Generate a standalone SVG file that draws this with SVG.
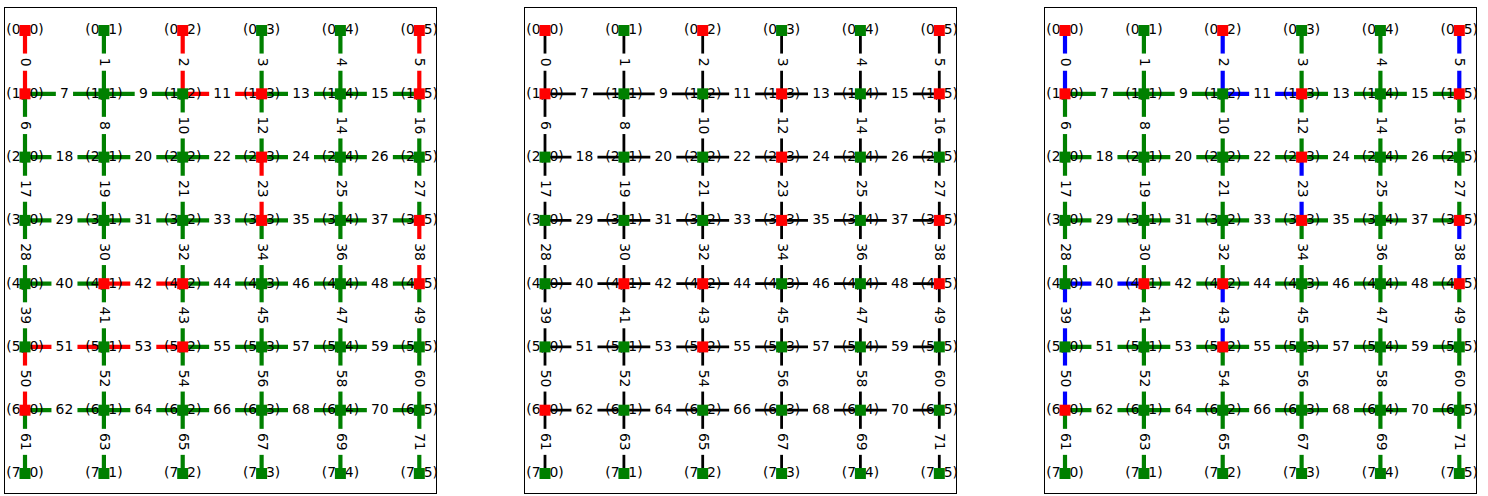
<svg xmlns="http://www.w3.org/2000/svg" width="1488" height="496" viewBox="0 0 1488 496">
<style>
text{font-family:"DejaVu Sans","Liberation Sans",sans-serif;font-size:13.9px;text-anchor:middle;fill:#000}
.cg path{stroke:#008000;stroke-width:4.2;fill:none}
.ck path{stroke:#000;stroke-width:2.8;fill:none}
path.r{stroke:#f00}
path.b{stroke:#00f}
.el rect{fill:#fff}
.nr{fill:#f00}
.ng{fill:#008000}
.frame{fill:none;stroke:#000;stroke-width:1}
</style>
<rect width="1488" height="496" fill="#fff"/>

<!-- PANEL 1 -->
<g id="panel1">
<rect class="frame" x="4.5" y="7.5" width="432" height="486"/>
<g id="p1-edges">
<g class="cg">
<path class="r" d="M25 30.5V93.8"/><path d="M103.9 30.5V93.8"/><path class="r" d="M182.7 30.5V93.8"/><path d="M261.6 30.5V93.8"/><path d="M340.4 30.5V93.8"/><path class="r" d="M419.3 30.5V93.8"/>
<path d="M25 93.8V157.1"/><path d="M25 93.8H103.9"/><path d="M103.9 93.8V157.1"/><path d="M103.9 93.8H182.7"/><path d="M182.7 93.8V157.1"/><path class="r" d="M182.7 93.8H261.6"/><path d="M261.6 93.8V157.1"/><path d="M261.6 93.8H340.4"/><path d="M340.4 93.8V157.1"/><path d="M340.4 93.8H419.3"/><path d="M419.3 93.8V157.1"/>
<path d="M25 157.1V220.4"/><path d="M25 157.1H103.9"/><path d="M103.9 157.1V220.4"/><path d="M103.9 157.1H182.7"/><path d="M182.7 157.1V220.4"/><path d="M182.7 157.1H261.6"/><path class="r" d="M261.6 157.1V220.4"/><path d="M261.6 157.1H340.4"/><path d="M340.4 157.1V220.4"/><path d="M340.4 157.1H419.3"/><path d="M419.3 157.1V220.4"/>
<path d="M25 220.4V283.7"/><path d="M25 220.4H103.9"/><path d="M103.9 220.4V283.7"/><path d="M103.9 220.4H182.7"/><path d="M182.7 220.4V283.7"/><path d="M182.7 220.4H261.6"/><path d="M261.6 220.4V283.7"/><path d="M261.6 220.4H340.4"/><path d="M340.4 220.4V283.7"/><path d="M340.4 220.4H419.3"/><path class="r" d="M419.3 220.4V283.7"/>
<path d="M25 283.7V346.9"/><path d="M25 283.7H103.9"/><path d="M103.9 283.7V346.9"/><path class="r" d="M103.9 283.7H182.7"/><path d="M182.7 283.7V346.9"/><path d="M182.7 283.7H261.6"/><path d="M261.6 283.7V346.9"/><path d="M261.6 283.7H340.4"/><path d="M340.4 283.7V346.9"/><path d="M340.4 283.7H419.3"/><path d="M419.3 283.7V346.9"/>
<path class="r" d="M25 346.9V410.2"/><path class="r" d="M25 346.9H103.9"/><path d="M103.9 346.9V410.2"/><path class="r" d="M103.9 346.9H182.7"/><path d="M182.7 346.9V410.2"/><path d="M182.7 346.9H261.6"/><path d="M261.6 346.9V410.2"/><path d="M261.6 346.9H340.4"/><path d="M340.4 346.9V410.2"/><path d="M340.4 346.9H419.3"/><path d="M419.3 346.9V410.2"/>
<path d="M25 410.2V473.5"/><path d="M25 410.2H103.9"/><path d="M103.9 410.2V473.5"/><path d="M103.9 410.2H182.7"/><path d="M182.7 410.2V473.5"/><path d="M182.7 410.2H261.6"/><path d="M261.6 410.2V473.5"/><path d="M261.6 410.2H340.4"/><path d="M340.4 410.2V473.5"/><path d="M340.4 410.2H419.3"/><path d="M419.3 410.2V473.5"/>
</g>
<g class="el">
<rect x="14.1" y="53.55" width="21.8" height="17.2"/><text transform="translate(25 62.15) rotate(90)" y="3.84">0</text>
<rect x="93" y="53.55" width="21.8" height="17.2"/><text transform="translate(103.9 62.15) rotate(90)" y="3.84">1</text>
<rect x="171.8" y="53.55" width="21.8" height="17.2"/><text transform="translate(182.7 62.15) rotate(90)" y="3.84">2</text>
<rect x="250.7" y="53.55" width="21.8" height="17.2"/><text transform="translate(261.6 62.15) rotate(90)" y="3.84">3</text>
<rect x="329.5" y="53.55" width="21.8" height="17.2"/><text transform="translate(340.4 62.15) rotate(90)" y="3.84">4</text>
<rect x="408.4" y="53.55" width="21.8" height="17.2"/><text transform="translate(419.3 62.15) rotate(90)" y="3.84">5</text>
<rect x="14.1" y="116.85" width="21.8" height="17.2"/><text transform="translate(25 125.45) rotate(90)" y="3.84">6</text>
<rect x="55.85" y="82.9" width="17.2" height="21.8"/><text x="64.45" y="97.6">7</text>
<rect x="93" y="116.85" width="21.8" height="17.2"/><text transform="translate(103.9 125.45) rotate(90)" y="3.84">8</text>
<rect x="134.7" y="82.9" width="17.2" height="21.8"/><text x="143.3" y="97.6">9</text>
<rect x="171.8" y="112.45" width="21.8" height="26"/><text transform="translate(182.7 125.45) rotate(90)" y="3.84">10</text>
<rect x="209.15" y="82.9" width="26" height="21.8"/><text x="222.15" y="97.6">11</text>
<rect x="250.7" y="112.45" width="21.8" height="26"/><text transform="translate(261.6 125.45) rotate(90)" y="3.84">12</text>
<rect x="288" y="82.9" width="26" height="21.8"/><text x="301" y="97.6">13</text>
<rect x="329.5" y="112.45" width="21.8" height="26"/><text transform="translate(340.4 125.45) rotate(90)" y="3.84">14</text>
<rect x="366.85" y="82.9" width="26" height="21.8"/><text x="379.85" y="97.6">15</text>
<rect x="408.4" y="112.45" width="21.8" height="26"/><text transform="translate(419.3 125.45) rotate(90)" y="3.84">16</text>
<rect x="14.1" y="175.75" width="21.8" height="26"/><text transform="translate(25 188.75) rotate(90)" y="3.84">17</text>
<rect x="51.45" y="146.2" width="26" height="21.8"/><text x="64.45" y="160.9">18</text>
<rect x="93" y="175.75" width="21.8" height="26"/><text transform="translate(103.9 188.75) rotate(90)" y="3.84">19</text>
<rect x="130.3" y="146.2" width="26" height="21.8"/><text x="143.3" y="160.9">20</text>
<rect x="171.8" y="175.75" width="21.8" height="26"/><text transform="translate(182.7 188.75) rotate(90)" y="3.84">21</text>
<rect x="209.15" y="146.2" width="26" height="21.8"/><text x="222.15" y="160.9">22</text>
<rect x="250.7" y="175.75" width="21.8" height="26"/><text transform="translate(261.6 188.75) rotate(90)" y="3.84">23</text>
<rect x="288" y="146.2" width="26" height="21.8"/><text x="301" y="160.9">24</text>
<rect x="329.5" y="175.75" width="21.8" height="26"/><text transform="translate(340.4 188.75) rotate(90)" y="3.84">25</text>
<rect x="366.85" y="146.2" width="26" height="21.8"/><text x="379.85" y="160.9">26</text>
<rect x="408.4" y="175.75" width="21.8" height="26"/><text transform="translate(419.3 188.75) rotate(90)" y="3.84">27</text>
<rect x="14.1" y="239.05" width="21.8" height="26"/><text transform="translate(25 252.05) rotate(90)" y="3.84">28</text>
<rect x="51.45" y="209.5" width="26" height="21.8"/><text x="64.45" y="224.2">29</text>
<rect x="93" y="239.05" width="21.8" height="26"/><text transform="translate(103.9 252.05) rotate(90)" y="3.84">30</text>
<rect x="130.3" y="209.5" width="26" height="21.8"/><text x="143.3" y="224.2">31</text>
<rect x="171.8" y="239.05" width="21.8" height="26"/><text transform="translate(182.7 252.05) rotate(90)" y="3.84">32</text>
<rect x="209.15" y="209.5" width="26" height="21.8"/><text x="222.15" y="224.2">33</text>
<rect x="250.7" y="239.05" width="21.8" height="26"/><text transform="translate(261.6 252.05) rotate(90)" y="3.84">34</text>
<rect x="288" y="209.5" width="26" height="21.8"/><text x="301" y="224.2">35</text>
<rect x="329.5" y="239.05" width="21.8" height="26"/><text transform="translate(340.4 252.05) rotate(90)" y="3.84">36</text>
<rect x="366.85" y="209.5" width="26" height="21.8"/><text x="379.85" y="224.2">37</text>
<rect x="408.4" y="239.05" width="21.8" height="26"/><text transform="translate(419.3 252.05) rotate(90)" y="3.84">38</text>
<rect x="14.1" y="302.3" width="21.8" height="26"/><text transform="translate(25 315.3) rotate(90)" y="3.84">39</text>
<rect x="51.45" y="272.8" width="26" height="21.8"/><text x="64.45" y="287.5">40</text>
<rect x="93" y="302.3" width="21.8" height="26"/><text transform="translate(103.9 315.3) rotate(90)" y="3.84">41</text>
<rect x="130.3" y="272.8" width="26" height="21.8"/><text x="143.3" y="287.5">42</text>
<rect x="171.8" y="302.3" width="21.8" height="26"/><text transform="translate(182.7 315.3) rotate(90)" y="3.84">43</text>
<rect x="209.15" y="272.8" width="26" height="21.8"/><text x="222.15" y="287.5">44</text>
<rect x="250.7" y="302.3" width="21.8" height="26"/><text transform="translate(261.6 315.3) rotate(90)" y="3.84">45</text>
<rect x="288" y="272.8" width="26" height="21.8"/><text x="301" y="287.5">46</text>
<rect x="329.5" y="302.3" width="21.8" height="26"/><text transform="translate(340.4 315.3) rotate(90)" y="3.84">47</text>
<rect x="366.85" y="272.8" width="26" height="21.8"/><text x="379.85" y="287.5">48</text>
<rect x="408.4" y="302.3" width="21.8" height="26"/><text transform="translate(419.3 315.3) rotate(90)" y="3.84">49</text>
<rect x="14.1" y="365.55" width="21.8" height="26"/><text transform="translate(25 378.55) rotate(90)" y="3.84">50</text>
<rect x="51.45" y="336" width="26" height="21.8"/><text x="64.45" y="350.7">51</text>
<rect x="93" y="365.55" width="21.8" height="26"/><text transform="translate(103.9 378.55) rotate(90)" y="3.84">52</text>
<rect x="130.3" y="336" width="26" height="21.8"/><text x="143.3" y="350.7">53</text>
<rect x="171.8" y="365.55" width="21.8" height="26"/><text transform="translate(182.7 378.55) rotate(90)" y="3.84">54</text>
<rect x="209.15" y="336" width="26" height="21.8"/><text x="222.15" y="350.7">55</text>
<rect x="250.7" y="365.55" width="21.8" height="26"/><text transform="translate(261.6 378.55) rotate(90)" y="3.84">56</text>
<rect x="288" y="336" width="26" height="21.8"/><text x="301" y="350.7">57</text>
<rect x="329.5" y="365.55" width="21.8" height="26"/><text transform="translate(340.4 378.55) rotate(90)" y="3.84">58</text>
<rect x="366.85" y="336" width="26" height="21.8"/><text x="379.85" y="350.7">59</text>
<rect x="408.4" y="365.55" width="21.8" height="26"/><text transform="translate(419.3 378.55) rotate(90)" y="3.84">60</text>
<rect x="14.1" y="428.85" width="21.8" height="26"/><text transform="translate(25 441.85) rotate(90)" y="3.84">61</text>
<rect x="51.45" y="399.3" width="26" height="21.8"/><text x="64.45" y="414">62</text>
<rect x="93" y="428.85" width="21.8" height="26"/><text transform="translate(103.9 441.85) rotate(90)" y="3.84">63</text>
<rect x="130.3" y="399.3" width="26" height="21.8"/><text x="143.3" y="414">64</text>
<rect x="171.8" y="428.85" width="21.8" height="26"/><text transform="translate(182.7 441.85) rotate(90)" y="3.84">65</text>
<rect x="209.15" y="399.3" width="26" height="21.8"/><text x="222.15" y="414">66</text>
<rect x="250.7" y="428.85" width="21.8" height="26"/><text transform="translate(261.6 441.85) rotate(90)" y="3.84">67</text>
<rect x="288" y="399.3" width="26" height="21.8"/><text x="301" y="414">68</text>
<rect x="329.5" y="428.85" width="21.8" height="26"/><text transform="translate(340.4 441.85) rotate(90)" y="3.84">69</text>
<rect x="366.85" y="399.3" width="26" height="21.8"/><text x="379.85" y="414">70</text>
<rect x="408.4" y="428.85" width="21.8" height="26"/><text transform="translate(419.3 441.85) rotate(90)" y="3.84">71</text>
</g>
</g>
<g id="p1-nodes">
<g id="p1-n0-0"><text x="25" y="34.3">(0, 0)</text><rect class="nr" x="19.5" y="25" width="11" height="11"/></g>
<g id="p1-n0-1"><text x="103.9" y="34.3">(0, 1)</text><rect class="ng" x="98.4" y="25" width="11" height="11"/></g>
<g id="p1-n0-2"><text x="182.7" y="34.3">(0, 2)</text><rect class="nr" x="177.2" y="25" width="11" height="11"/></g>
<g id="p1-n0-3"><text x="261.6" y="34.3">(0, 3)</text><rect class="ng" x="256.1" y="25" width="11" height="11"/></g>
<g id="p1-n0-4"><text x="340.4" y="34.3">(0, 4)</text><rect class="ng" x="334.9" y="25" width="11" height="11"/></g>
<g id="p1-n0-5"><text x="419.3" y="34.3">(0, 5)</text><rect class="nr" x="413.8" y="25" width="11" height="11"/></g>
<g id="p1-n1-0"><text x="25" y="97.6">(1, 0)</text><rect class="nr" x="19.5" y="88.3" width="11" height="11"/></g>
<g id="p1-n1-1"><text x="103.9" y="97.6">(1, 1)</text><rect class="ng" x="98.4" y="88.3" width="11" height="11"/></g>
<g id="p1-n1-2"><text x="182.7" y="97.6">(1, 2)</text><rect class="ng" x="177.2" y="88.3" width="11" height="11"/></g>
<g id="p1-n1-3"><text x="261.6" y="97.6">(1, 3)</text><rect class="nr" x="256.1" y="88.3" width="11" height="11"/></g>
<g id="p1-n1-4"><text x="340.4" y="97.6">(1, 4)</text><rect class="ng" x="334.9" y="88.3" width="11" height="11"/></g>
<g id="p1-n1-5"><text x="419.3" y="97.6">(1, 5)</text><rect class="nr" x="413.8" y="88.3" width="11" height="11"/></g>
<g id="p1-n2-0"><text x="25" y="160.9">(2, 0)</text><rect class="ng" x="19.5" y="151.6" width="11" height="11"/></g>
<g id="p1-n2-1"><text x="103.9" y="160.9">(2, 1)</text><rect class="ng" x="98.4" y="151.6" width="11" height="11"/></g>
<g id="p1-n2-2"><text x="182.7" y="160.9">(2, 2)</text><rect class="ng" x="177.2" y="151.6" width="11" height="11"/></g>
<g id="p1-n2-3"><text x="261.6" y="160.9">(2, 3)</text><rect class="nr" x="256.1" y="151.6" width="11" height="11"/></g>
<g id="p1-n2-4"><text x="340.4" y="160.9">(2, 4)</text><rect class="ng" x="334.9" y="151.6" width="11" height="11"/></g>
<g id="p1-n2-5"><text x="419.3" y="160.9">(2, 5)</text><rect class="ng" x="413.8" y="151.6" width="11" height="11"/></g>
<g id="p1-n3-0"><text x="25" y="224.2">(3, 0)</text><rect class="ng" x="19.5" y="214.9" width="11" height="11"/></g>
<g id="p1-n3-1"><text x="103.9" y="224.2">(3, 1)</text><rect class="ng" x="98.4" y="214.9" width="11" height="11"/></g>
<g id="p1-n3-2"><text x="182.7" y="224.2">(3, 2)</text><rect class="ng" x="177.2" y="214.9" width="11" height="11"/></g>
<g id="p1-n3-3"><text x="261.6" y="224.2">(3, 3)</text><rect class="nr" x="256.1" y="214.9" width="11" height="11"/></g>
<g id="p1-n3-4"><text x="340.4" y="224.2">(3, 4)</text><rect class="ng" x="334.9" y="214.9" width="11" height="11"/></g>
<g id="p1-n3-5"><text x="419.3" y="224.2">(3, 5)</text><rect class="nr" x="413.8" y="214.9" width="11" height="11"/></g>
<g id="p1-n4-0"><text x="25" y="287.5">(4, 0)</text><rect class="ng" x="19.5" y="278.2" width="11" height="11"/></g>
<g id="p1-n4-1"><text x="103.9" y="287.5">(4, 1)</text><rect class="nr" x="98.4" y="278.2" width="11" height="11"/></g>
<g id="p1-n4-2"><text x="182.7" y="287.5">(4, 2)</text><rect class="nr" x="177.2" y="278.2" width="11" height="11"/></g>
<g id="p1-n4-3"><text x="261.6" y="287.5">(4, 3)</text><rect class="ng" x="256.1" y="278.2" width="11" height="11"/></g>
<g id="p1-n4-4"><text x="340.4" y="287.5">(4, 4)</text><rect class="ng" x="334.9" y="278.2" width="11" height="11"/></g>
<g id="p1-n4-5"><text x="419.3" y="287.5">(4, 5)</text><rect class="nr" x="413.8" y="278.2" width="11" height="11"/></g>
<g id="p1-n5-0"><text x="25" y="350.7">(5, 0)</text><rect class="ng" x="19.5" y="341.4" width="11" height="11"/></g>
<g id="p1-n5-1"><text x="103.9" y="350.7">(5, 1)</text><rect class="ng" x="98.4" y="341.4" width="11" height="11"/></g>
<g id="p1-n5-2"><text x="182.7" y="350.7">(5, 2)</text><rect class="nr" x="177.2" y="341.4" width="11" height="11"/></g>
<g id="p1-n5-3"><text x="261.6" y="350.7">(5, 3)</text><rect class="ng" x="256.1" y="341.4" width="11" height="11"/></g>
<g id="p1-n5-4"><text x="340.4" y="350.7">(5, 4)</text><rect class="ng" x="334.9" y="341.4" width="11" height="11"/></g>
<g id="p1-n5-5"><text x="419.3" y="350.7">(5, 5)</text><rect class="ng" x="413.8" y="341.4" width="11" height="11"/></g>
<g id="p1-n6-0"><text x="25" y="414">(6, 0)</text><rect class="nr" x="19.5" y="404.7" width="11" height="11"/></g>
<g id="p1-n6-1"><text x="103.9" y="414">(6, 1)</text><rect class="ng" x="98.4" y="404.7" width="11" height="11"/></g>
<g id="p1-n6-2"><text x="182.7" y="414">(6, 2)</text><rect class="ng" x="177.2" y="404.7" width="11" height="11"/></g>
<g id="p1-n6-3"><text x="261.6" y="414">(6, 3)</text><rect class="ng" x="256.1" y="404.7" width="11" height="11"/></g>
<g id="p1-n6-4"><text x="340.4" y="414">(6, 4)</text><rect class="ng" x="334.9" y="404.7" width="11" height="11"/></g>
<g id="p1-n6-5"><text x="419.3" y="414">(6, 5)</text><rect class="ng" x="413.8" y="404.7" width="11" height="11"/></g>
<g id="p1-n7-0"><text x="25" y="477.3">(7, 0)</text><rect class="ng" x="19.5" y="468" width="11" height="11"/></g>
<g id="p1-n7-1"><text x="103.9" y="477.3">(7, 1)</text><rect class="ng" x="98.4" y="468" width="11" height="11"/></g>
<g id="p1-n7-2"><text x="182.7" y="477.3">(7, 2)</text><rect class="ng" x="177.2" y="468" width="11" height="11"/></g>
<g id="p1-n7-3"><text x="261.6" y="477.3">(7, 3)</text><rect class="ng" x="256.1" y="468" width="11" height="11"/></g>
<g id="p1-n7-4"><text x="340.4" y="477.3">(7, 4)</text><rect class="ng" x="334.9" y="468" width="11" height="11"/></g>
<g id="p1-n7-5"><text x="419.3" y="477.3">(7, 5)</text><rect class="ng" x="413.8" y="468" width="11" height="11"/></g>
</g>
</g>

<!-- PANEL 2 -->
<g id="panel2" transform="translate(520 0)">
<rect class="frame" x="4.5" y="7.5" width="432" height="486"/>
<g id="p2-edges">
<g class="ck">
<path d="M25 30.5V93.8"/><path d="M103.9 30.5V93.8"/><path d="M182.7 30.5V93.8"/><path d="M261.6 30.5V93.8"/><path d="M340.4 30.5V93.8"/><path d="M419.3 30.5V93.8"/>
<path d="M25 93.8V157.1"/><path d="M25 93.8H103.9"/><path d="M103.9 93.8V157.1"/><path d="M103.9 93.8H182.7"/><path d="M182.7 93.8V157.1"/><path d="M182.7 93.8H261.6"/><path d="M261.6 93.8V157.1"/><path d="M261.6 93.8H340.4"/><path d="M340.4 93.8V157.1"/><path d="M340.4 93.8H419.3"/><path d="M419.3 93.8V157.1"/>
<path d="M25 157.1V220.4"/><path d="M25 157.1H103.9"/><path d="M103.9 157.1V220.4"/><path d="M103.9 157.1H182.7"/><path d="M182.7 157.1V220.4"/><path d="M182.7 157.1H261.6"/><path d="M261.6 157.1V220.4"/><path d="M261.6 157.1H340.4"/><path d="M340.4 157.1V220.4"/><path d="M340.4 157.1H419.3"/><path d="M419.3 157.1V220.4"/>
<path d="M25 220.4V283.7"/><path d="M25 220.4H103.9"/><path d="M103.9 220.4V283.7"/><path d="M103.9 220.4H182.7"/><path d="M182.7 220.4V283.7"/><path d="M182.7 220.4H261.6"/><path d="M261.6 220.4V283.7"/><path d="M261.6 220.4H340.4"/><path d="M340.4 220.4V283.7"/><path d="M340.4 220.4H419.3"/><path d="M419.3 220.4V283.7"/>
<path d="M25 283.7V346.9"/><path d="M25 283.7H103.9"/><path d="M103.9 283.7V346.9"/><path d="M103.9 283.7H182.7"/><path d="M182.7 283.7V346.9"/><path d="M182.7 283.7H261.6"/><path d="M261.6 283.7V346.9"/><path d="M261.6 283.7H340.4"/><path d="M340.4 283.7V346.9"/><path d="M340.4 283.7H419.3"/><path d="M419.3 283.7V346.9"/>
<path d="M25 346.9V410.2"/><path d="M25 346.9H103.9"/><path d="M103.9 346.9V410.2"/><path d="M103.9 346.9H182.7"/><path d="M182.7 346.9V410.2"/><path d="M182.7 346.9H261.6"/><path d="M261.6 346.9V410.2"/><path d="M261.6 346.9H340.4"/><path d="M340.4 346.9V410.2"/><path d="M340.4 346.9H419.3"/><path d="M419.3 346.9V410.2"/>
<path d="M25 410.2V473.5"/><path d="M25 410.2H103.9"/><path d="M103.9 410.2V473.5"/><path d="M103.9 410.2H182.7"/><path d="M182.7 410.2V473.5"/><path d="M182.7 410.2H261.6"/><path d="M261.6 410.2V473.5"/><path d="M261.6 410.2H340.4"/><path d="M340.4 410.2V473.5"/><path d="M340.4 410.2H419.3"/><path d="M419.3 410.2V473.5"/>
</g>
<g class="el">
<rect x="14.1" y="53.55" width="21.8" height="17.2"/><text transform="translate(25 62.15) rotate(90)" y="3.84">0</text>
<rect x="93" y="53.55" width="21.8" height="17.2"/><text transform="translate(103.9 62.15) rotate(90)" y="3.84">1</text>
<rect x="171.8" y="53.55" width="21.8" height="17.2"/><text transform="translate(182.7 62.15) rotate(90)" y="3.84">2</text>
<rect x="250.7" y="53.55" width="21.8" height="17.2"/><text transform="translate(261.6 62.15) rotate(90)" y="3.84">3</text>
<rect x="329.5" y="53.55" width="21.8" height="17.2"/><text transform="translate(340.4 62.15) rotate(90)" y="3.84">4</text>
<rect x="408.4" y="53.55" width="21.8" height="17.2"/><text transform="translate(419.3 62.15) rotate(90)" y="3.84">5</text>
<rect x="14.1" y="116.85" width="21.8" height="17.2"/><text transform="translate(25 125.45) rotate(90)" y="3.84">6</text>
<rect x="55.85" y="82.9" width="17.2" height="21.8"/><text x="64.45" y="97.6">7</text>
<rect x="93" y="116.85" width="21.8" height="17.2"/><text transform="translate(103.9 125.45) rotate(90)" y="3.84">8</text>
<rect x="134.7" y="82.9" width="17.2" height="21.8"/><text x="143.3" y="97.6">9</text>
<rect x="171.8" y="112.45" width="21.8" height="26"/><text transform="translate(182.7 125.45) rotate(90)" y="3.84">10</text>
<rect x="209.15" y="82.9" width="26" height="21.8"/><text x="222.15" y="97.6">11</text>
<rect x="250.7" y="112.45" width="21.8" height="26"/><text transform="translate(261.6 125.45) rotate(90)" y="3.84">12</text>
<rect x="288" y="82.9" width="26" height="21.8"/><text x="301" y="97.6">13</text>
<rect x="329.5" y="112.45" width="21.8" height="26"/><text transform="translate(340.4 125.45) rotate(90)" y="3.84">14</text>
<rect x="366.85" y="82.9" width="26" height="21.8"/><text x="379.85" y="97.6">15</text>
<rect x="408.4" y="112.45" width="21.8" height="26"/><text transform="translate(419.3 125.45) rotate(90)" y="3.84">16</text>
<rect x="14.1" y="175.75" width="21.8" height="26"/><text transform="translate(25 188.75) rotate(90)" y="3.84">17</text>
<rect x="51.45" y="146.2" width="26" height="21.8"/><text x="64.45" y="160.9">18</text>
<rect x="93" y="175.75" width="21.8" height="26"/><text transform="translate(103.9 188.75) rotate(90)" y="3.84">19</text>
<rect x="130.3" y="146.2" width="26" height="21.8"/><text x="143.3" y="160.9">20</text>
<rect x="171.8" y="175.75" width="21.8" height="26"/><text transform="translate(182.7 188.75) rotate(90)" y="3.84">21</text>
<rect x="209.15" y="146.2" width="26" height="21.8"/><text x="222.15" y="160.9">22</text>
<rect x="250.7" y="175.75" width="21.8" height="26"/><text transform="translate(261.6 188.75) rotate(90)" y="3.84">23</text>
<rect x="288" y="146.2" width="26" height="21.8"/><text x="301" y="160.9">24</text>
<rect x="329.5" y="175.75" width="21.8" height="26"/><text transform="translate(340.4 188.75) rotate(90)" y="3.84">25</text>
<rect x="366.85" y="146.2" width="26" height="21.8"/><text x="379.85" y="160.9">26</text>
<rect x="408.4" y="175.75" width="21.8" height="26"/><text transform="translate(419.3 188.75) rotate(90)" y="3.84">27</text>
<rect x="14.1" y="239.05" width="21.8" height="26"/><text transform="translate(25 252.05) rotate(90)" y="3.84">28</text>
<rect x="51.45" y="209.5" width="26" height="21.8"/><text x="64.45" y="224.2">29</text>
<rect x="93" y="239.05" width="21.8" height="26"/><text transform="translate(103.9 252.05) rotate(90)" y="3.84">30</text>
<rect x="130.3" y="209.5" width="26" height="21.8"/><text x="143.3" y="224.2">31</text>
<rect x="171.8" y="239.05" width="21.8" height="26"/><text transform="translate(182.7 252.05) rotate(90)" y="3.84">32</text>
<rect x="209.15" y="209.5" width="26" height="21.8"/><text x="222.15" y="224.2">33</text>
<rect x="250.7" y="239.05" width="21.8" height="26"/><text transform="translate(261.6 252.05) rotate(90)" y="3.84">34</text>
<rect x="288" y="209.5" width="26" height="21.8"/><text x="301" y="224.2">35</text>
<rect x="329.5" y="239.05" width="21.8" height="26"/><text transform="translate(340.4 252.05) rotate(90)" y="3.84">36</text>
<rect x="366.85" y="209.5" width="26" height="21.8"/><text x="379.85" y="224.2">37</text>
<rect x="408.4" y="239.05" width="21.8" height="26"/><text transform="translate(419.3 252.05) rotate(90)" y="3.84">38</text>
<rect x="14.1" y="302.3" width="21.8" height="26"/><text transform="translate(25 315.3) rotate(90)" y="3.84">39</text>
<rect x="51.45" y="272.8" width="26" height="21.8"/><text x="64.45" y="287.5">40</text>
<rect x="93" y="302.3" width="21.8" height="26"/><text transform="translate(103.9 315.3) rotate(90)" y="3.84">41</text>
<rect x="130.3" y="272.8" width="26" height="21.8"/><text x="143.3" y="287.5">42</text>
<rect x="171.8" y="302.3" width="21.8" height="26"/><text transform="translate(182.7 315.3) rotate(90)" y="3.84">43</text>
<rect x="209.15" y="272.8" width="26" height="21.8"/><text x="222.15" y="287.5">44</text>
<rect x="250.7" y="302.3" width="21.8" height="26"/><text transform="translate(261.6 315.3) rotate(90)" y="3.84">45</text>
<rect x="288" y="272.8" width="26" height="21.8"/><text x="301" y="287.5">46</text>
<rect x="329.5" y="302.3" width="21.8" height="26"/><text transform="translate(340.4 315.3) rotate(90)" y="3.84">47</text>
<rect x="366.85" y="272.8" width="26" height="21.8"/><text x="379.85" y="287.5">48</text>
<rect x="408.4" y="302.3" width="21.8" height="26"/><text transform="translate(419.3 315.3) rotate(90)" y="3.84">49</text>
<rect x="14.1" y="365.55" width="21.8" height="26"/><text transform="translate(25 378.55) rotate(90)" y="3.84">50</text>
<rect x="51.45" y="336" width="26" height="21.8"/><text x="64.45" y="350.7">51</text>
<rect x="93" y="365.55" width="21.8" height="26"/><text transform="translate(103.9 378.55) rotate(90)" y="3.84">52</text>
<rect x="130.3" y="336" width="26" height="21.8"/><text x="143.3" y="350.7">53</text>
<rect x="171.8" y="365.55" width="21.8" height="26"/><text transform="translate(182.7 378.55) rotate(90)" y="3.84">54</text>
<rect x="209.15" y="336" width="26" height="21.8"/><text x="222.15" y="350.7">55</text>
<rect x="250.7" y="365.55" width="21.8" height="26"/><text transform="translate(261.6 378.55) rotate(90)" y="3.84">56</text>
<rect x="288" y="336" width="26" height="21.8"/><text x="301" y="350.7">57</text>
<rect x="329.5" y="365.55" width="21.8" height="26"/><text transform="translate(340.4 378.55) rotate(90)" y="3.84">58</text>
<rect x="366.85" y="336" width="26" height="21.8"/><text x="379.85" y="350.7">59</text>
<rect x="408.4" y="365.55" width="21.8" height="26"/><text transform="translate(419.3 378.55) rotate(90)" y="3.84">60</text>
<rect x="14.1" y="428.85" width="21.8" height="26"/><text transform="translate(25 441.85) rotate(90)" y="3.84">61</text>
<rect x="51.45" y="399.3" width="26" height="21.8"/><text x="64.45" y="414">62</text>
<rect x="93" y="428.85" width="21.8" height="26"/><text transform="translate(103.9 441.85) rotate(90)" y="3.84">63</text>
<rect x="130.3" y="399.3" width="26" height="21.8"/><text x="143.3" y="414">64</text>
<rect x="171.8" y="428.85" width="21.8" height="26"/><text transform="translate(182.7 441.85) rotate(90)" y="3.84">65</text>
<rect x="209.15" y="399.3" width="26" height="21.8"/><text x="222.15" y="414">66</text>
<rect x="250.7" y="428.85" width="21.8" height="26"/><text transform="translate(261.6 441.85) rotate(90)" y="3.84">67</text>
<rect x="288" y="399.3" width="26" height="21.8"/><text x="301" y="414">68</text>
<rect x="329.5" y="428.85" width="21.8" height="26"/><text transform="translate(340.4 441.85) rotate(90)" y="3.84">69</text>
<rect x="366.85" y="399.3" width="26" height="21.8"/><text x="379.85" y="414">70</text>
<rect x="408.4" y="428.85" width="21.8" height="26"/><text transform="translate(419.3 441.85) rotate(90)" y="3.84">71</text>
</g>
</g>
<g id="p2-nodes">
<g id="p2-n0-0"><text x="25" y="34.3">(0, 0)</text><rect class="nr" x="19.5" y="25" width="11" height="11"/></g>
<g id="p2-n0-1"><text x="103.9" y="34.3">(0, 1)</text><rect class="ng" x="98.4" y="25" width="11" height="11"/></g>
<g id="p2-n0-2"><text x="182.7" y="34.3">(0, 2)</text><rect class="nr" x="177.2" y="25" width="11" height="11"/></g>
<g id="p2-n0-3"><text x="261.6" y="34.3">(0, 3)</text><rect class="ng" x="256.1" y="25" width="11" height="11"/></g>
<g id="p2-n0-4"><text x="340.4" y="34.3">(0, 4)</text><rect class="ng" x="334.9" y="25" width="11" height="11"/></g>
<g id="p2-n0-5"><text x="419.3" y="34.3">(0, 5)</text><rect class="nr" x="413.8" y="25" width="11" height="11"/></g>
<g id="p2-n1-0"><text x="25" y="97.6">(1, 0)</text><rect class="nr" x="19.5" y="88.3" width="11" height="11"/></g>
<g id="p2-n1-1"><text x="103.9" y="97.6">(1, 1)</text><rect class="ng" x="98.4" y="88.3" width="11" height="11"/></g>
<g id="p2-n1-2"><text x="182.7" y="97.6">(1, 2)</text><rect class="ng" x="177.2" y="88.3" width="11" height="11"/></g>
<g id="p2-n1-3"><text x="261.6" y="97.6">(1, 3)</text><rect class="nr" x="256.1" y="88.3" width="11" height="11"/></g>
<g id="p2-n1-4"><text x="340.4" y="97.6">(1, 4)</text><rect class="ng" x="334.9" y="88.3" width="11" height="11"/></g>
<g id="p2-n1-5"><text x="419.3" y="97.6">(1, 5)</text><rect class="nr" x="413.8" y="88.3" width="11" height="11"/></g>
<g id="p2-n2-0"><text x="25" y="160.9">(2, 0)</text><rect class="ng" x="19.5" y="151.6" width="11" height="11"/></g>
<g id="p2-n2-1"><text x="103.9" y="160.9">(2, 1)</text><rect class="ng" x="98.4" y="151.6" width="11" height="11"/></g>
<g id="p2-n2-2"><text x="182.7" y="160.9">(2, 2)</text><rect class="ng" x="177.2" y="151.6" width="11" height="11"/></g>
<g id="p2-n2-3"><text x="261.6" y="160.9">(2, 3)</text><rect class="nr" x="256.1" y="151.6" width="11" height="11"/></g>
<g id="p2-n2-4"><text x="340.4" y="160.9">(2, 4)</text><rect class="ng" x="334.9" y="151.6" width="11" height="11"/></g>
<g id="p2-n2-5"><text x="419.3" y="160.9">(2, 5)</text><rect class="ng" x="413.8" y="151.6" width="11" height="11"/></g>
<g id="p2-n3-0"><text x="25" y="224.2">(3, 0)</text><rect class="ng" x="19.5" y="214.9" width="11" height="11"/></g>
<g id="p2-n3-1"><text x="103.9" y="224.2">(3, 1)</text><rect class="ng" x="98.4" y="214.9" width="11" height="11"/></g>
<g id="p2-n3-2"><text x="182.7" y="224.2">(3, 2)</text><rect class="ng" x="177.2" y="214.9" width="11" height="11"/></g>
<g id="p2-n3-3"><text x="261.6" y="224.2">(3, 3)</text><rect class="nr" x="256.1" y="214.9" width="11" height="11"/></g>
<g id="p2-n3-4"><text x="340.4" y="224.2">(3, 4)</text><rect class="ng" x="334.9" y="214.9" width="11" height="11"/></g>
<g id="p2-n3-5"><text x="419.3" y="224.2">(3, 5)</text><rect class="nr" x="413.8" y="214.9" width="11" height="11"/></g>
<g id="p2-n4-0"><text x="25" y="287.5">(4, 0)</text><rect class="ng" x="19.5" y="278.2" width="11" height="11"/></g>
<g id="p2-n4-1"><text x="103.9" y="287.5">(4, 1)</text><rect class="nr" x="98.4" y="278.2" width="11" height="11"/></g>
<g id="p2-n4-2"><text x="182.7" y="287.5">(4, 2)</text><rect class="nr" x="177.2" y="278.2" width="11" height="11"/></g>
<g id="p2-n4-3"><text x="261.6" y="287.5">(4, 3)</text><rect class="ng" x="256.1" y="278.2" width="11" height="11"/></g>
<g id="p2-n4-4"><text x="340.4" y="287.5">(4, 4)</text><rect class="ng" x="334.9" y="278.2" width="11" height="11"/></g>
<g id="p2-n4-5"><text x="419.3" y="287.5">(4, 5)</text><rect class="nr" x="413.8" y="278.2" width="11" height="11"/></g>
<g id="p2-n5-0"><text x="25" y="350.7">(5, 0)</text><rect class="ng" x="19.5" y="341.4" width="11" height="11"/></g>
<g id="p2-n5-1"><text x="103.9" y="350.7">(5, 1)</text><rect class="ng" x="98.4" y="341.4" width="11" height="11"/></g>
<g id="p2-n5-2"><text x="182.7" y="350.7">(5, 2)</text><rect class="nr" x="177.2" y="341.4" width="11" height="11"/></g>
<g id="p2-n5-3"><text x="261.6" y="350.7">(5, 3)</text><rect class="ng" x="256.1" y="341.4" width="11" height="11"/></g>
<g id="p2-n5-4"><text x="340.4" y="350.7">(5, 4)</text><rect class="ng" x="334.9" y="341.4" width="11" height="11"/></g>
<g id="p2-n5-5"><text x="419.3" y="350.7">(5, 5)</text><rect class="ng" x="413.8" y="341.4" width="11" height="11"/></g>
<g id="p2-n6-0"><text x="25" y="414">(6, 0)</text><rect class="nr" x="19.5" y="404.7" width="11" height="11"/></g>
<g id="p2-n6-1"><text x="103.9" y="414">(6, 1)</text><rect class="ng" x="98.4" y="404.7" width="11" height="11"/></g>
<g id="p2-n6-2"><text x="182.7" y="414">(6, 2)</text><rect class="ng" x="177.2" y="404.7" width="11" height="11"/></g>
<g id="p2-n6-3"><text x="261.6" y="414">(6, 3)</text><rect class="ng" x="256.1" y="404.7" width="11" height="11"/></g>
<g id="p2-n6-4"><text x="340.4" y="414">(6, 4)</text><rect class="ng" x="334.9" y="404.7" width="11" height="11"/></g>
<g id="p2-n6-5"><text x="419.3" y="414">(6, 5)</text><rect class="ng" x="413.8" y="404.7" width="11" height="11"/></g>
<g id="p2-n7-0"><text x="25" y="477.3">(7, 0)</text><rect class="ng" x="19.5" y="468" width="11" height="11"/></g>
<g id="p2-n7-1"><text x="103.9" y="477.3">(7, 1)</text><rect class="ng" x="98.4" y="468" width="11" height="11"/></g>
<g id="p2-n7-2"><text x="182.7" y="477.3">(7, 2)</text><rect class="ng" x="177.2" y="468" width="11" height="11"/></g>
<g id="p2-n7-3"><text x="261.6" y="477.3">(7, 3)</text><rect class="ng" x="256.1" y="468" width="11" height="11"/></g>
<g id="p2-n7-4"><text x="340.4" y="477.3">(7, 4)</text><rect class="ng" x="334.9" y="468" width="11" height="11"/></g>
<g id="p2-n7-5"><text x="419.3" y="477.3">(7, 5)</text><rect class="ng" x="413.8" y="468" width="11" height="11"/></g>
</g>
</g>

<!-- PANEL 3 -->
<g id="panel3" transform="translate(1040 0)">
<rect class="frame" x="4.5" y="7.5" width="432" height="486"/>
<g id="p3-edges">
<g class="cg">
<path class="b" d="M25 30.5V93.8"/><path d="M103.9 30.5V93.8"/><path class="b" d="M182.7 30.5V93.8"/><path d="M261.6 30.5V93.8"/><path d="M340.4 30.5V93.8"/><path class="b" d="M419.3 30.5V93.8"/>
<path d="M25 93.8V157.1"/><path d="M25 93.8H103.9"/><path d="M103.9 93.8V157.1"/><path d="M103.9 93.8H182.7"/><path d="M182.7 93.8V157.1"/><path class="b" d="M182.7 93.8H261.6"/><path d="M261.6 93.8V157.1"/><path d="M261.6 93.8H340.4"/><path d="M340.4 93.8V157.1"/><path d="M340.4 93.8H419.3"/><path d="M419.3 93.8V157.1"/>
<path d="M25 157.1V220.4"/><path d="M25 157.1H103.9"/><path d="M103.9 157.1V220.4"/><path d="M103.9 157.1H182.7"/><path d="M182.7 157.1V220.4"/><path d="M182.7 157.1H261.6"/><path class="b" d="M261.6 157.1V220.4"/><path d="M261.6 157.1H340.4"/><path d="M340.4 157.1V220.4"/><path d="M340.4 157.1H419.3"/><path d="M419.3 157.1V220.4"/>
<path d="M25 220.4V283.7"/><path d="M25 220.4H103.9"/><path d="M103.9 220.4V283.7"/><path d="M103.9 220.4H182.7"/><path d="M182.7 220.4V283.7"/><path d="M182.7 220.4H261.6"/><path d="M261.6 220.4V283.7"/><path d="M261.6 220.4H340.4"/><path d="M340.4 220.4V283.7"/><path d="M340.4 220.4H419.3"/><path class="b" d="M419.3 220.4V283.7"/>
<path class="b" d="M25 283.7V346.9"/><path class="b" d="M25 283.7H103.9"/><path d="M103.9 283.7V346.9"/><path d="M103.9 283.7H182.7"/><path class="b" d="M182.7 283.7V346.9"/><path d="M182.7 283.7H261.6"/><path d="M261.6 283.7V346.9"/><path d="M261.6 283.7H340.4"/><path d="M340.4 283.7V346.9"/><path d="M340.4 283.7H419.3"/><path d="M419.3 283.7V346.9"/>
<path class="b" d="M25 346.9V410.2"/><path d="M25 346.9H103.9"/><path d="M103.9 346.9V410.2"/><path d="M103.9 346.9H182.7"/><path d="M182.7 346.9V410.2"/><path d="M182.7 346.9H261.6"/><path d="M261.6 346.9V410.2"/><path d="M261.6 346.9H340.4"/><path d="M340.4 346.9V410.2"/><path d="M340.4 346.9H419.3"/><path d="M419.3 346.9V410.2"/>
<path d="M25 410.2V473.5"/><path d="M25 410.2H103.9"/><path d="M103.9 410.2V473.5"/><path d="M103.9 410.2H182.7"/><path d="M182.7 410.2V473.5"/><path d="M182.7 410.2H261.6"/><path d="M261.6 410.2V473.5"/><path d="M261.6 410.2H340.4"/><path d="M340.4 410.2V473.5"/><path d="M340.4 410.2H419.3"/><path d="M419.3 410.2V473.5"/>
</g>
<g class="el">
<rect x="14.1" y="53.55" width="21.8" height="17.2"/><text transform="translate(25 62.15) rotate(90)" y="3.84">0</text>
<rect x="93" y="53.55" width="21.8" height="17.2"/><text transform="translate(103.9 62.15) rotate(90)" y="3.84">1</text>
<rect x="171.8" y="53.55" width="21.8" height="17.2"/><text transform="translate(182.7 62.15) rotate(90)" y="3.84">2</text>
<rect x="250.7" y="53.55" width="21.8" height="17.2"/><text transform="translate(261.6 62.15) rotate(90)" y="3.84">3</text>
<rect x="329.5" y="53.55" width="21.8" height="17.2"/><text transform="translate(340.4 62.15) rotate(90)" y="3.84">4</text>
<rect x="408.4" y="53.55" width="21.8" height="17.2"/><text transform="translate(419.3 62.15) rotate(90)" y="3.84">5</text>
<rect x="14.1" y="116.85" width="21.8" height="17.2"/><text transform="translate(25 125.45) rotate(90)" y="3.84">6</text>
<rect x="55.85" y="82.9" width="17.2" height="21.8"/><text x="64.45" y="97.6">7</text>
<rect x="93" y="116.85" width="21.8" height="17.2"/><text transform="translate(103.9 125.45) rotate(90)" y="3.84">8</text>
<rect x="134.7" y="82.9" width="17.2" height="21.8"/><text x="143.3" y="97.6">9</text>
<rect x="171.8" y="112.45" width="21.8" height="26"/><text transform="translate(182.7 125.45) rotate(90)" y="3.84">10</text>
<rect x="209.15" y="82.9" width="26" height="21.8"/><text x="222.15" y="97.6">11</text>
<rect x="250.7" y="112.45" width="21.8" height="26"/><text transform="translate(261.6 125.45) rotate(90)" y="3.84">12</text>
<rect x="288" y="82.9" width="26" height="21.8"/><text x="301" y="97.6">13</text>
<rect x="329.5" y="112.45" width="21.8" height="26"/><text transform="translate(340.4 125.45) rotate(90)" y="3.84">14</text>
<rect x="366.85" y="82.9" width="26" height="21.8"/><text x="379.85" y="97.6">15</text>
<rect x="408.4" y="112.45" width="21.8" height="26"/><text transform="translate(419.3 125.45) rotate(90)" y="3.84">16</text>
<rect x="14.1" y="175.75" width="21.8" height="26"/><text transform="translate(25 188.75) rotate(90)" y="3.84">17</text>
<rect x="51.45" y="146.2" width="26" height="21.8"/><text x="64.45" y="160.9">18</text>
<rect x="93" y="175.75" width="21.8" height="26"/><text transform="translate(103.9 188.75) rotate(90)" y="3.84">19</text>
<rect x="130.3" y="146.2" width="26" height="21.8"/><text x="143.3" y="160.9">20</text>
<rect x="171.8" y="175.75" width="21.8" height="26"/><text transform="translate(182.7 188.75) rotate(90)" y="3.84">21</text>
<rect x="209.15" y="146.2" width="26" height="21.8"/><text x="222.15" y="160.9">22</text>
<rect x="250.7" y="175.75" width="21.8" height="26"/><text transform="translate(261.6 188.75) rotate(90)" y="3.84">23</text>
<rect x="288" y="146.2" width="26" height="21.8"/><text x="301" y="160.9">24</text>
<rect x="329.5" y="175.75" width="21.8" height="26"/><text transform="translate(340.4 188.75) rotate(90)" y="3.84">25</text>
<rect x="366.85" y="146.2" width="26" height="21.8"/><text x="379.85" y="160.9">26</text>
<rect x="408.4" y="175.75" width="21.8" height="26"/><text transform="translate(419.3 188.75) rotate(90)" y="3.84">27</text>
<rect x="14.1" y="239.05" width="21.8" height="26"/><text transform="translate(25 252.05) rotate(90)" y="3.84">28</text>
<rect x="51.45" y="209.5" width="26" height="21.8"/><text x="64.45" y="224.2">29</text>
<rect x="93" y="239.05" width="21.8" height="26"/><text transform="translate(103.9 252.05) rotate(90)" y="3.84">30</text>
<rect x="130.3" y="209.5" width="26" height="21.8"/><text x="143.3" y="224.2">31</text>
<rect x="171.8" y="239.05" width="21.8" height="26"/><text transform="translate(182.7 252.05) rotate(90)" y="3.84">32</text>
<rect x="209.15" y="209.5" width="26" height="21.8"/><text x="222.15" y="224.2">33</text>
<rect x="250.7" y="239.05" width="21.8" height="26"/><text transform="translate(261.6 252.05) rotate(90)" y="3.84">34</text>
<rect x="288" y="209.5" width="26" height="21.8"/><text x="301" y="224.2">35</text>
<rect x="329.5" y="239.05" width="21.8" height="26"/><text transform="translate(340.4 252.05) rotate(90)" y="3.84">36</text>
<rect x="366.85" y="209.5" width="26" height="21.8"/><text x="379.85" y="224.2">37</text>
<rect x="408.4" y="239.05" width="21.8" height="26"/><text transform="translate(419.3 252.05) rotate(90)" y="3.84">38</text>
<rect x="14.1" y="302.3" width="21.8" height="26"/><text transform="translate(25 315.3) rotate(90)" y="3.84">39</text>
<rect x="51.45" y="272.8" width="26" height="21.8"/><text x="64.45" y="287.5">40</text>
<rect x="93" y="302.3" width="21.8" height="26"/><text transform="translate(103.9 315.3) rotate(90)" y="3.84">41</text>
<rect x="130.3" y="272.8" width="26" height="21.8"/><text x="143.3" y="287.5">42</text>
<rect x="171.8" y="302.3" width="21.8" height="26"/><text transform="translate(182.7 315.3) rotate(90)" y="3.84">43</text>
<rect x="209.15" y="272.8" width="26" height="21.8"/><text x="222.15" y="287.5">44</text>
<rect x="250.7" y="302.3" width="21.8" height="26"/><text transform="translate(261.6 315.3) rotate(90)" y="3.84">45</text>
<rect x="288" y="272.8" width="26" height="21.8"/><text x="301" y="287.5">46</text>
<rect x="329.5" y="302.3" width="21.8" height="26"/><text transform="translate(340.4 315.3) rotate(90)" y="3.84">47</text>
<rect x="366.85" y="272.8" width="26" height="21.8"/><text x="379.85" y="287.5">48</text>
<rect x="408.4" y="302.3" width="21.8" height="26"/><text transform="translate(419.3 315.3) rotate(90)" y="3.84">49</text>
<rect x="14.1" y="365.55" width="21.8" height="26"/><text transform="translate(25 378.55) rotate(90)" y="3.84">50</text>
<rect x="51.45" y="336" width="26" height="21.8"/><text x="64.45" y="350.7">51</text>
<rect x="93" y="365.55" width="21.8" height="26"/><text transform="translate(103.9 378.55) rotate(90)" y="3.84">52</text>
<rect x="130.3" y="336" width="26" height="21.8"/><text x="143.3" y="350.7">53</text>
<rect x="171.8" y="365.55" width="21.8" height="26"/><text transform="translate(182.7 378.55) rotate(90)" y="3.84">54</text>
<rect x="209.15" y="336" width="26" height="21.8"/><text x="222.15" y="350.7">55</text>
<rect x="250.7" y="365.55" width="21.8" height="26"/><text transform="translate(261.6 378.55) rotate(90)" y="3.84">56</text>
<rect x="288" y="336" width="26" height="21.8"/><text x="301" y="350.7">57</text>
<rect x="329.5" y="365.55" width="21.8" height="26"/><text transform="translate(340.4 378.55) rotate(90)" y="3.84">58</text>
<rect x="366.85" y="336" width="26" height="21.8"/><text x="379.85" y="350.7">59</text>
<rect x="408.4" y="365.55" width="21.8" height="26"/><text transform="translate(419.3 378.55) rotate(90)" y="3.84">60</text>
<rect x="14.1" y="428.85" width="21.8" height="26"/><text transform="translate(25 441.85) rotate(90)" y="3.84">61</text>
<rect x="51.45" y="399.3" width="26" height="21.8"/><text x="64.45" y="414">62</text>
<rect x="93" y="428.85" width="21.8" height="26"/><text transform="translate(103.9 441.85) rotate(90)" y="3.84">63</text>
<rect x="130.3" y="399.3" width="26" height="21.8"/><text x="143.3" y="414">64</text>
<rect x="171.8" y="428.85" width="21.8" height="26"/><text transform="translate(182.7 441.85) rotate(90)" y="3.84">65</text>
<rect x="209.15" y="399.3" width="26" height="21.8"/><text x="222.15" y="414">66</text>
<rect x="250.7" y="428.85" width="21.8" height="26"/><text transform="translate(261.6 441.85) rotate(90)" y="3.84">67</text>
<rect x="288" y="399.3" width="26" height="21.8"/><text x="301" y="414">68</text>
<rect x="329.5" y="428.85" width="21.8" height="26"/><text transform="translate(340.4 441.85) rotate(90)" y="3.84">69</text>
<rect x="366.85" y="399.3" width="26" height="21.8"/><text x="379.85" y="414">70</text>
<rect x="408.4" y="428.85" width="21.8" height="26"/><text transform="translate(419.3 441.85) rotate(90)" y="3.84">71</text>
</g>
</g>
<g id="p3-nodes">
<g id="p3-n0-0"><text x="25" y="34.3">(0, 0)</text><rect class="nr" x="19.5" y="25" width="11" height="11"/></g>
<g id="p3-n0-1"><text x="103.9" y="34.3">(0, 1)</text><rect class="ng" x="98.4" y="25" width="11" height="11"/></g>
<g id="p3-n0-2"><text x="182.7" y="34.3">(0, 2)</text><rect class="nr" x="177.2" y="25" width="11" height="11"/></g>
<g id="p3-n0-3"><text x="261.6" y="34.3">(0, 3)</text><rect class="ng" x="256.1" y="25" width="11" height="11"/></g>
<g id="p3-n0-4"><text x="340.4" y="34.3">(0, 4)</text><rect class="ng" x="334.9" y="25" width="11" height="11"/></g>
<g id="p3-n0-5"><text x="419.3" y="34.3">(0, 5)</text><rect class="nr" x="413.8" y="25" width="11" height="11"/></g>
<g id="p3-n1-0"><text x="25" y="97.6">(1, 0)</text><rect class="nr" x="19.5" y="88.3" width="11" height="11"/></g>
<g id="p3-n1-1"><text x="103.9" y="97.6">(1, 1)</text><rect class="ng" x="98.4" y="88.3" width="11" height="11"/></g>
<g id="p3-n1-2"><text x="182.7" y="97.6">(1, 2)</text><rect class="ng" x="177.2" y="88.3" width="11" height="11"/></g>
<g id="p3-n1-3"><text x="261.6" y="97.6">(1, 3)</text><rect class="nr" x="256.1" y="88.3" width="11" height="11"/></g>
<g id="p3-n1-4"><text x="340.4" y="97.6">(1, 4)</text><rect class="ng" x="334.9" y="88.3" width="11" height="11"/></g>
<g id="p3-n1-5"><text x="419.3" y="97.6">(1, 5)</text><rect class="nr" x="413.8" y="88.3" width="11" height="11"/></g>
<g id="p3-n2-0"><text x="25" y="160.9">(2, 0)</text><rect class="ng" x="19.5" y="151.6" width="11" height="11"/></g>
<g id="p3-n2-1"><text x="103.9" y="160.9">(2, 1)</text><rect class="ng" x="98.4" y="151.6" width="11" height="11"/></g>
<g id="p3-n2-2"><text x="182.7" y="160.9">(2, 2)</text><rect class="ng" x="177.2" y="151.6" width="11" height="11"/></g>
<g id="p3-n2-3"><text x="261.6" y="160.9">(2, 3)</text><rect class="nr" x="256.1" y="151.6" width="11" height="11"/></g>
<g id="p3-n2-4"><text x="340.4" y="160.9">(2, 4)</text><rect class="ng" x="334.9" y="151.6" width="11" height="11"/></g>
<g id="p3-n2-5"><text x="419.3" y="160.9">(2, 5)</text><rect class="ng" x="413.8" y="151.6" width="11" height="11"/></g>
<g id="p3-n3-0"><text x="25" y="224.2">(3, 0)</text><rect class="ng" x="19.5" y="214.9" width="11" height="11"/></g>
<g id="p3-n3-1"><text x="103.9" y="224.2">(3, 1)</text><rect class="ng" x="98.4" y="214.9" width="11" height="11"/></g>
<g id="p3-n3-2"><text x="182.7" y="224.2">(3, 2)</text><rect class="ng" x="177.2" y="214.9" width="11" height="11"/></g>
<g id="p3-n3-3"><text x="261.6" y="224.2">(3, 3)</text><rect class="nr" x="256.1" y="214.9" width="11" height="11"/></g>
<g id="p3-n3-4"><text x="340.4" y="224.2">(3, 4)</text><rect class="ng" x="334.9" y="214.9" width="11" height="11"/></g>
<g id="p3-n3-5"><text x="419.3" y="224.2">(3, 5)</text><rect class="nr" x="413.8" y="214.9" width="11" height="11"/></g>
<g id="p3-n4-0"><text x="25" y="287.5">(4, 0)</text><rect class="ng" x="19.5" y="278.2" width="11" height="11"/></g>
<g id="p3-n4-1"><text x="103.9" y="287.5">(4, 1)</text><rect class="nr" x="98.4" y="278.2" width="11" height="11"/></g>
<g id="p3-n4-2"><text x="182.7" y="287.5">(4, 2)</text><rect class="nr" x="177.2" y="278.2" width="11" height="11"/></g>
<g id="p3-n4-3"><text x="261.6" y="287.5">(4, 3)</text><rect class="ng" x="256.1" y="278.2" width="11" height="11"/></g>
<g id="p3-n4-4"><text x="340.4" y="287.5">(4, 4)</text><rect class="ng" x="334.9" y="278.2" width="11" height="11"/></g>
<g id="p3-n4-5"><text x="419.3" y="287.5">(4, 5)</text><rect class="nr" x="413.8" y="278.2" width="11" height="11"/></g>
<g id="p3-n5-0"><text x="25" y="350.7">(5, 0)</text><rect class="ng" x="19.5" y="341.4" width="11" height="11"/></g>
<g id="p3-n5-1"><text x="103.9" y="350.7">(5, 1)</text><rect class="ng" x="98.4" y="341.4" width="11" height="11"/></g>
<g id="p3-n5-2"><text x="182.7" y="350.7">(5, 2)</text><rect class="nr" x="177.2" y="341.4" width="11" height="11"/></g>
<g id="p3-n5-3"><text x="261.6" y="350.7">(5, 3)</text><rect class="ng" x="256.1" y="341.4" width="11" height="11"/></g>
<g id="p3-n5-4"><text x="340.4" y="350.7">(5, 4)</text><rect class="ng" x="334.9" y="341.4" width="11" height="11"/></g>
<g id="p3-n5-5"><text x="419.3" y="350.7">(5, 5)</text><rect class="ng" x="413.8" y="341.4" width="11" height="11"/></g>
<g id="p3-n6-0"><text x="25" y="414">(6, 0)</text><rect class="nr" x="19.5" y="404.7" width="11" height="11"/></g>
<g id="p3-n6-1"><text x="103.9" y="414">(6, 1)</text><rect class="ng" x="98.4" y="404.7" width="11" height="11"/></g>
<g id="p3-n6-2"><text x="182.7" y="414">(6, 2)</text><rect class="ng" x="177.2" y="404.7" width="11" height="11"/></g>
<g id="p3-n6-3"><text x="261.6" y="414">(6, 3)</text><rect class="ng" x="256.1" y="404.7" width="11" height="11"/></g>
<g id="p3-n6-4"><text x="340.4" y="414">(6, 4)</text><rect class="ng" x="334.9" y="404.7" width="11" height="11"/></g>
<g id="p3-n6-5"><text x="419.3" y="414">(6, 5)</text><rect class="ng" x="413.8" y="404.7" width="11" height="11"/></g>
<g id="p3-n7-0"><text x="25" y="477.3">(7, 0)</text><rect class="ng" x="19.5" y="468" width="11" height="11"/></g>
<g id="p3-n7-1"><text x="103.9" y="477.3">(7, 1)</text><rect class="ng" x="98.4" y="468" width="11" height="11"/></g>
<g id="p3-n7-2"><text x="182.7" y="477.3">(7, 2)</text><rect class="ng" x="177.2" y="468" width="11" height="11"/></g>
<g id="p3-n7-3"><text x="261.6" y="477.3">(7, 3)</text><rect class="ng" x="256.1" y="468" width="11" height="11"/></g>
<g id="p3-n7-4"><text x="340.4" y="477.3">(7, 4)</text><rect class="ng" x="334.9" y="468" width="11" height="11"/></g>
<g id="p3-n7-5"><text x="419.3" y="477.3">(7, 5)</text><rect class="ng" x="413.8" y="468" width="11" height="11"/></g>
</g>
</g>
</svg>
